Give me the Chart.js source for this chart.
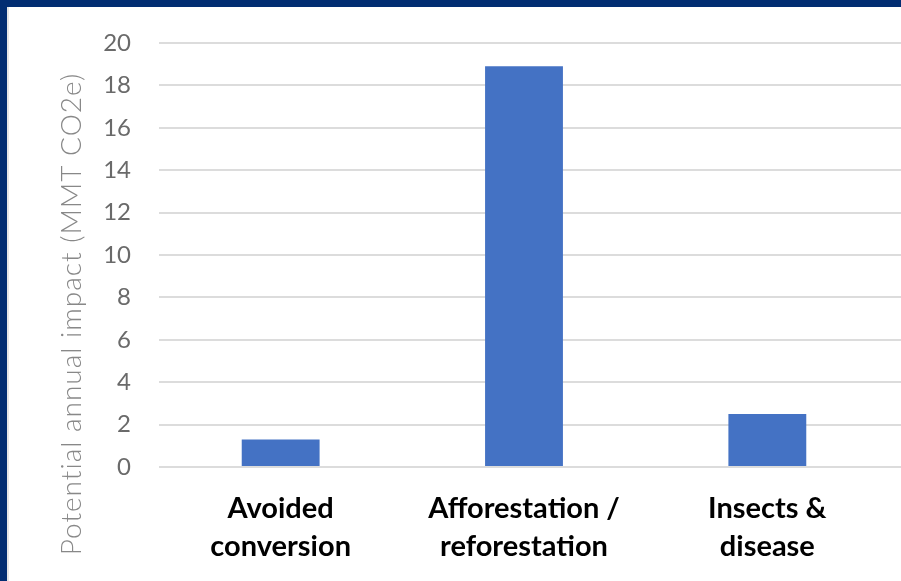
<!DOCTYPE html>
<html>
<head>
<meta charset="utf-8">
<script src="https://cdn.jsdelivr.net/npm/chart.js@4/dist/chart.umd.min.js"></script>
<style>
  html, body { margin: 0; padding: 0; background: #fff; }
  body { width: 901px; height: 581px; position: relative; overflow: hidden; }
  .frame-top { position: absolute; left: 0; top: 0; width: 901px; height: 7px; background: #022d72; }
  .frame-left { position: absolute; left: 0; top: 0; width: 7px; height: 581px; background: #022d72; }
  .frame-edge { position: absolute; left: 7px; top: 7px; width: 2px; height: 574px; background: #e6e6e6; }
  #impact-chart { position: absolute; left: 0; top: 0; }
</style>
</head>
<body>
<div class="frame-top"></div>
<div class="frame-left"></div>
<div class="frame-edge"></div>
<canvas id="impact-chart" width="901" height="581"></canvas>
<script>
// Forest carbon pathways and their potential yearly impact
const CATEGORIES = [
  ["Avoided", "conversion"],
  ["Afforestation /", "reforestation"],
  ["Insects &", "disease"],
];
const IMPACT_MMT = [1.3, 18.9, 2.5];

const Y_MIN = 0;
const Y_MAX = 20;
const Y_STEP = 2;
const AXIS_TITLE = "Potential annual impact (MMT CO2e)";

const BAR_COLOR = "#4472c4";
const GRID_COLOR = "#dcdcdc";

// gridlines keep going past the plot area up to the canvas edge
const gridRunout = {
  id: "gridRunout",
  beforeDatasetsDraw(chart) {
    const { ctx, chartArea } = chart;
    const y = chart.scales.y;
    ctx.save();
    ctx.strokeStyle = GRID_COLOR;
    ctx.lineWidth = 2;
    y.ticks.forEach((t) => {
      const py = Math.round(y.getPixelForValue(t.value));
      ctx.beginPath();
      ctx.moveTo(chartArea.right, py);
      ctx.lineTo(chart.width, py);
      ctx.stroke();
    });
    ctx.restore();
  },
};

// axis title sits lower than the plot centre, so draw it by hand
const sideTitle = {
  id: "sideTitle",
  afterDraw(chart) {
    const { ctx } = chart;
    ctx.save();
    ctx.translate(72, 314);
    ctx.rotate(-Math.PI / 2);
    ctx.font = "300 28px Lato";
    ctx.letterSpacing = "1px";
    ctx.fillStyle = "#888";
    ctx.textAlign = "center";
    ctx.textBaseline = "middle";
    ctx.fillText(AXIS_TITLE, 0, 0);
    ctx.restore();
  },
};

new Chart(document.getElementById("impact-chart"), {
  type: "bar",
  data: {
    labels: CATEGORIES,
    datasets: [
      {
        data: IMPACT_MMT,
        backgroundColor: BAR_COLOR,
        barPercentage: 0.32,
        categoryPercentage: 1,
      },
    ],
  },
  options: {
    responsive: false,
    animation: false,
    layout: { padding: { top: 43, right: 12, left: 0, bottom: 0 } },
    plugins: {
      legend: { display: false },
      tooltip: { enabled: false },
    },
    scales: {
      x: {
        grid: { display: false },
        border: { display: false },
        ticks: {
          color: "#000",
          padding: 15,
          maxRotation: 0,
          font: { family: "Lato", size: 29, weight: "bold", lineHeight: 1.3 },
        },
        afterFit(scale) {
          scale.height = 114;
        },
      },
      y: {
        min: Y_MIN,
        max: Y_MAX,
        grid: { color: GRID_COLOR, lineWidth: 2, drawTicks: false },
        border: { display: false },
        ticks: {
          stepSize: Y_STEP,
          padding: 28,
          color: "#6a6a6a",
          font: { family: "Lato", size: 24 },
        },
        afterFit(scale) {
          scale.width = 159;
        },
      },
    },
  },
  plugins: [gridRunout, sideTitle],
});
</script>
</body>
</html>
